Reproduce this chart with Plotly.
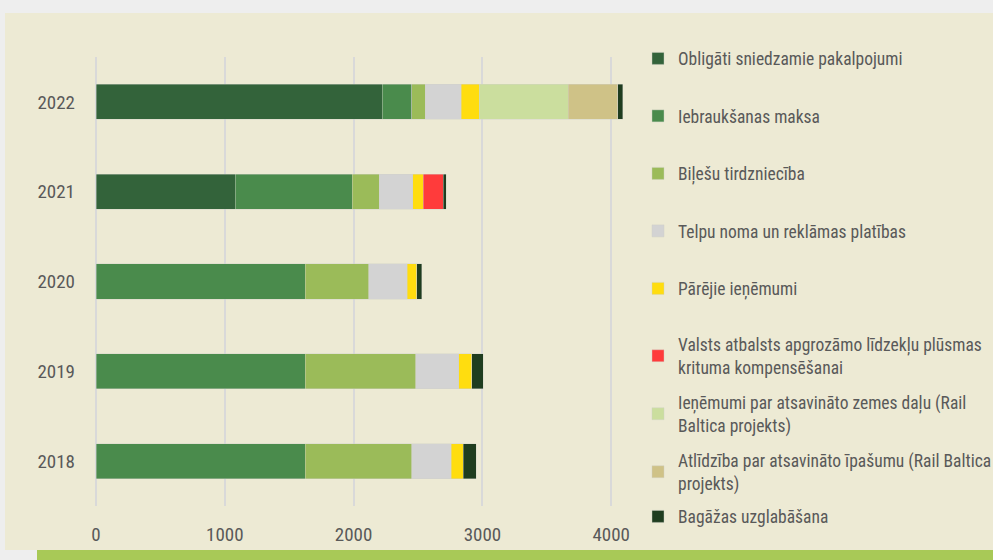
import plotly.graph_objects as go

years = ['2018', '2019', '2020', '2021', '2022']

series_names = [
    'Obligāti sniedzamie pakalpojumi',
    'Iebraukšanas maksa',
    'Biļešu tirdzniecība',
    'Telpu noma un reklāmas platības',
    'Pārējie ieņēmumi',
    'Valsts atbalsts apgrozāmo līdzekļu plūsmas<br>krituma kompensēšanai',
    'Ieņēmumi par atsavināto zemes daļu (Rail<br>Baltica projekts)',
    'Atlīdzība par atsavināto īpašumu (Rail Baltica<br>projekts)',
    'Bagāžas uzglabāšana',
]

obligati = [None, None, None, 1081, 2222]
iebrauksanas = [1626, 1626, 1626, 908, 230]
bilesu = [826, 855, 492, 211, 105]
telpu = [306, 336, 298, 258, 280]
parejie = [95, 99, 75, 83, 140]
valsts = [None, None, None, 153, None]
zemes = [None, None, None, None, 690]
atlidziba = [None, None, None, None, 383]
bagazas = [99, 91, 36, 24, 39]

series_values = [obligati, iebrauksanas, bilesu, telpu, parejie, valsts, zemes, atlidziba, bagazas]

colors = ['#33633A', '#4A8B4C', '#9BBB59', '#D3D3D3', '#FFDD0F',
          '#FF3B3B', '#CBDE9E', '#CFC287', '#1F3D1F']

x_ticks = [0, 1000, 2000, 3000, 4000]

FONT = 'Roboto Condensed, Liberation Sans Narrow, DejaVu Sans Condensed, sans-serif'
TXT = '#595959'

W, H = 993, 560
L, R, T, B = 96, 356, 57, 54
pw = W - L - R
ph = H - T - B


def px_x(px):
    return (px - L) / pw


def px_y(py):
    return (H - B - py) / ph


fig = go.Figure()
legend_tops = [40.5, 98, 155.5, 213, 270.5, 326.5, 384.5, 442.5, 498.5]
for i, (name, vals, col) in enumerate(zip(series_names, series_values, colors)):
    lg = 'legend' if i == 0 else f'legend{i+1}'
    fig.add_trace(go.Bar(
        y=years, x=vals, name=name, orientation='h',
        marker=dict(color=col, line=dict(color='rgba(210,210,200,0.7)', width=0.6)),
        legend=lg,
    ))

layout_legends = {}
for i, top in enumerate(legend_tops):
    key = 'legend' if i == 0 else f'legend{i+1}'
    layout_legends[key] = dict(
        xref='container', yref='container',
        x=638 / W, xanchor='left', y=1 - top / H, yanchor='top',
        bgcolor='rgba(0,0,0,0)', borderwidth=0,
        font=dict(family=FONT, size=17.5, color=TXT),
        itemclick=False, itemdoubleclick=False,
    )

fig.update_layout(
    width=W, height=H,
    margin=dict(l=L, r=R, t=T, b=B, pad=0, autoexpand=False),
    paper_bgcolor='#EEEEEE',
    plot_bgcolor='rgba(0,0,0,0)',
    barmode='stack',
    bargap=0.61,
    showlegend=True,
    font=dict(family=FONT, size=17.5, color=TXT),
    xaxis=dict(
        range=[0, 4200], tickvals=x_ticks, ticktext=[str(v) for v in x_ticks],
        showgrid=True, gridcolor='#D9D9D9', gridwidth=1.6,
        zeroline=True, zerolinecolor='#D9D9D9', zerolinewidth=1.6,
        showline=False, ticks='', ticklabelstandoff=15,
        tickfont=dict(family=FONT, size=19, color=TXT),
        fixedrange=True,
    ),
    yaxis=dict(
        type='category', categoryorder='array', categoryarray=years,
        showgrid=False, zeroline=False, showline=False, ticks='',
        ticklabelstandoff=20,
        tickfont=dict(family=FONT, size=19, color=TXT),
        fixedrange=True,
    ),
    shapes=[
        dict(type='rect', xref='paper', yref='paper', layer='below',
             x0=px_x(5), x1=px_x(1000), y0=px_y(550), y1=px_y(13),
             fillcolor='#EDEAD4', line=dict(width=0)),
        dict(type='rect', xref='paper', yref='paper', layer='below',
             x0=px_x(37), x1=px_x(1000), y0=px_y(561), y1=px_y(550),
             fillcolor='#A8C957', line=dict(width=0)),
    ],
    **layout_legends,
)

fig.write_html(
    'out.html',
    config={'displayModeBar': False},
    post_script="document.body.style.margin='0';document.body.style.background='#EEEEEE';",
)
